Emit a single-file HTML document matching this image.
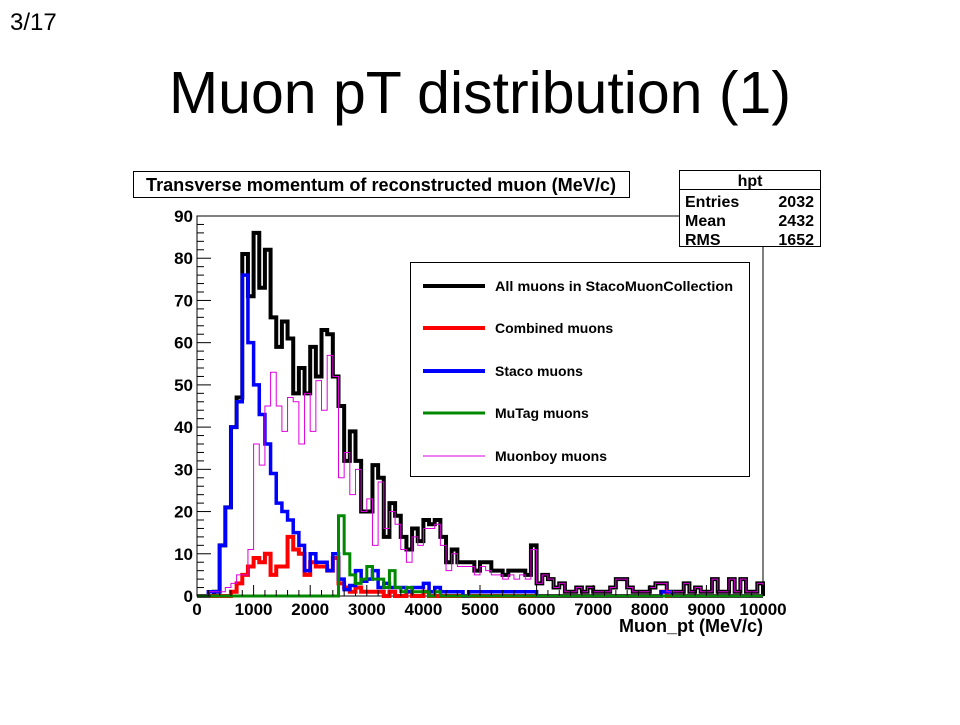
<!DOCTYPE html>
<html><head><meta charset="utf-8">
<style>
body{margin:0;background:#fff;}
svg text{font-family:"Liberation Sans",Arial,sans-serif;}
</style></head>
<body>
<svg width="960" height="720" xmlns="http://www.w3.org/2000/svg">
<rect width="960" height="720" fill="#fff"/>
<text x="10" y="30" font-size="24">3/17</text>
<text x="480" y="113" font-size="59" text-anchor="middle">Muon pT distribution (1)</text>
<g>
<rect x="133.5" y="171.5" width="496" height="26" fill="#fff" stroke="#000"/>
<text x="381" y="191" font-size="18" font-weight="bold" text-anchor="middle" textLength="470" lengthAdjust="spacingAndGlyphs">Transverse momentum of reconstructed muon (MeV/c)</text>
</g>
<g id="plot"></g>
<g>
<rect x="679.5" y="170.5" width="141" height="76" fill="#fff" stroke="#000"/>
<line x1="679.5" y1="189.5" x2="820.5" y2="189.5" stroke="#000"/>
<text x="750" y="186" font-size="16" font-weight="bold" text-anchor="middle">hpt</text>
<text x="685" y="207" font-size="16" font-weight="bold">Entries</text><text x="814" y="207" font-size="16" font-weight="bold" text-anchor="end">2032</text>
<text x="685" y="226" font-size="16" font-weight="bold">Mean</text><text x="814" y="226" font-size="16" font-weight="bold" text-anchor="end">2432</text>
<text x="685" y="245" font-size="16" font-weight="bold">RMS</text><text x="814" y="245" font-size="16" font-weight="bold" text-anchor="end">1652</text>
</g>
<g>
<rect x="410.5" y="262.5" width="339" height="214" fill="#fff" stroke="#000"/>
<g><line x1="423" y1="286" x2="485" y2="286" stroke="#000" stroke-width="4"/><text x="495" y="291" font-size="14" font-weight="bold" textLength="238" lengthAdjust="spacingAndGlyphs">All muons in StacoMuonCollection</text></g>
<g><line x1="423" y1="328" x2="485" y2="328" stroke="#f00" stroke-width="4"/><text x="495" y="333" font-size="14" font-weight="bold">Combined muons</text></g>
<g><line x1="423" y1="371" x2="485" y2="371" stroke="#00f" stroke-width="4"/><text x="495" y="376" font-size="14" font-weight="bold">Staco muons</text></g>
<g><line x1="423" y1="413" x2="485" y2="413" stroke="#080" stroke-width="3"/><text x="495" y="418" font-size="14" font-weight="bold">MuTag muons</text></g>
<g><line x1="423" y1="456" x2="485" y2="456" stroke="#d0d" stroke-width="1"/><text x="495" y="461" font-size="14" font-weight="bold">Muonboy muons</text></g>
</g>
</svg>
<script>
const allMuons=[0,0,0,1,12,21,40,47,81,71,86,73,82,66,59,65,61,48,54,48,59,52,63,62,52,45,32,39,32,20,20,31,28,14,22,19,14,11,16,13,18,17,18,14,8,11,8,8,8,6,8,8,6,6,5,6,6,6,5,12,3,5,4,2,3,1,1,2,1,2,1,1,1,2,4,4,2,1,1,1,2,3,3,1,1,1,3,1,2,1,1,4,1,1,4,1,4,1,1,3];
const combined=[0,0,0,0,0,0,1,3,5,7,9,8,10,5,7,7,14,11,10,5,8,7,7,6,9,3,2,1,2,1,1,1,1,0,1,0,0,1,0,0,1,0,0,0,0,0,0,0,0,0,0,0,0,0,0,0,0,0,0,0,0,0,0,0,0,0,0,0,0,0,0,0,0,0,0,0,0,0,0,0,0,0,1,0,0,0,0,0,0,0,0,0,0,0,0,0,0,0,0,0];
const staco=[0,0,1,1,12,21,40,46,76,60,50,43,36,29,22,20,18,15,12,6,10,8,8,6,10,4,1.5,2.5,6,3.5,4,6,2,3,2,2,2,1,2,2,3,1,2,1,1,1,1,0,1,1,1,1,1,1,1,1,1,1,1,1,0,0,0,0,0,0,0,0,0,0,0,0,0,0,0,0,0,0,0,0,0,0,1,1,0,0,0,0,0,0,0,0,0,0,0,0,0,0,0,0];
const mutag=[0,0,0,0,0,0,0,0,0,0,0,0,0,0,0,0,0,0,0,0,0,0,0,0,0,19,10,5,3,4,7,4,4,2,6,2,1,2,1,1,1,0,1,0,0,0,0,0,0,0,0,0,0,0,0,0,0,0,0,0,0,0,0,0,0,0,0,0,0,0,0,0,0,0,0,0,0,0,0,0,0,0,0,0,0,0,0,0,0,0,0,0,0,0,0,0,0,0,0,0];
const muonboy=[0,0,1,1,1,2,3,5,5,11,36,31,45,53,45,39,47,46,36,48,39,51,44,57,52,28,34,24,30,20,23,12,27,16,20,17,11,8,14,12,16,16,17,12,6,10,7,7,7,5,7,6,5,5,4,5,4,5,4,11,3,5,4,2,3,1,1,2,1,2,1,1,1,2,4,4,2,1,1,1,2,3,3,1,1,1,3,1,2,1,1,4,1,1,4,1,4,1,1,3];
const xTicks=[0,1000,2000,3000,4000,5000,6000,7000,8000,9000,10000];
const yTicks=[0,10,20,30,40,50,60,70,80,90];
const X0=197,X1=763,Y0=596,Y1=216,XMAX=10000,YMAX=90,BIN=100;
const xs=v=>X0+(v/XMAX)*(X1-X0);
const ys=v=>Y0-(v/YMAX)*(Y0-Y1);
const NS="http://www.w3.org/2000/svg";
const g=document.getElementById('plot');
function mk(t,a){const e=document.createElementNS(NS,t);for(const k in a)e.setAttribute(k,a[k]);return e;}
const frame=mk('rect',{x:X0,y:Y1,width:X1-X0,height:Y0-Y1,fill:'#fff',stroke:'#000'});


g.appendChild(frame);
function hist(arr,color,w,name){
  let d='M'+xs(0)+','+ys(0);
  arr.forEach((v,i)=>{d+=' L'+xs(i*BIN)+','+ys(v)+' L'+xs((i+1)*BIN)+','+ys(v);});
  d+=' L'+xs(arr.length*BIN)+','+ys(0);
  const p=mk('path',{d:d,fill:'none',stroke:color,'stroke-width':w});
  
  
  g.appendChild(p);
}
hist(allMuons,'#000',4,'series-all-muons');
hist(combined,'#f00',4,'series-combined');
hist(staco,'#00f',3.5,'series-staco');
hist(mutag,'#080',3,'series-mutag');
hist(muonboy,'#d0d',1,'series-muonboy');
for(let v=0;v<=XMAX;v+=200){const big=v%1000===0;const t=mk('line',{x1:xs(v),y1:Y0,x2:xs(v),y2:Y0-(big?11:6),stroke:'#000'});


g.appendChild(t);}
xTicks.forEach(v=>{const t=mk('text',{x:xs(v),y:Y0+19,'font-size':17,'font-weight':'bold','text-anchor':'middle'});t.textContent=v;


g.appendChild(t);});
for(let v=0;v<=YMAX;v+=2){const big=v%10===0;const t=mk('line',{x1:X0,y1:ys(v),x2:X0+(big?14:7),y2:ys(v),stroke:'#000'});


g.appendChild(t);}
yTicks.forEach(v=>{const t=mk('text',{x:X0-4,y:ys(v)+6,'font-size':17,'font-weight':'bold','text-anchor':'end'});t.textContent=v;


g.appendChild(t);});
const xt=mk('text',{x:X1,y:Y0+36,'font-size':18,'font-weight':'bold','text-anchor':'end'});xt.textContent='Muon_pt (MeV/c)';


g.appendChild(xt);
</script>
</body></html>
